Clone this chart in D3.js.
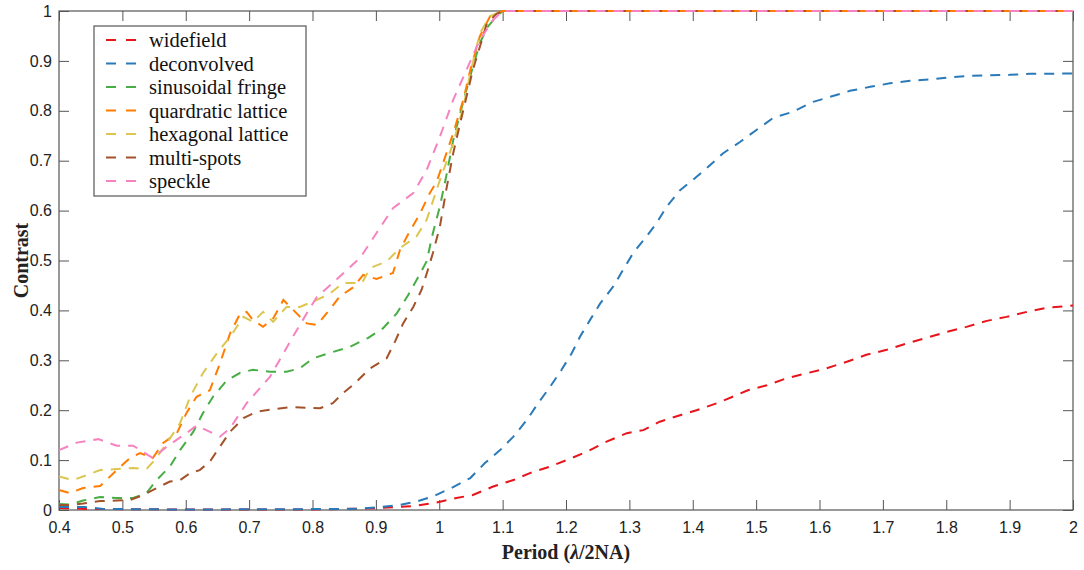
<!DOCTYPE html>
<html>
<head>
<meta charset="utf-8">
<script src="https://cdn.jsdelivr.net/npm/d3@7"></script>
<style>
  body { margin: 0; background: #fff; }
  svg { display: block; }
</style>
</head>
<body>
<div id="chart"></div>
<script>
// Contrast vs. period
const xTicks = [0.4, 0.5, 0.6, 0.7, 0.8, 0.9, 1, 1.1, 1.2, 1.3, 1.4, 1.5, 1.6, 1.7, 1.8, 1.9, 2];
const yTicks = [0, 0.1, 0.2, 0.3, 0.4, 0.5, 0.6, 0.7, 0.8, 0.9, 1];

const widefield = [[0.4,0.004],[0.45,0.002],[0.6,0.001],[0.8,0.001],[0.88,0.003],[0.906,0.004],[0.959,0.008],[0.996,0.015],[1.027,0.024],[1.053,0.03],[1.085,0.047],[1.117,0.06],[1.143,0.074],[1.175,0.087],[1.201,0.1],[1.233,0.117],[1.264,0.137],[1.296,0.154],[1.322,0.16],[1.348,0.177],[1.38,0.19],[1.406,0.2],[1.438,0.214],[1.463,0.227],[1.487,0.24],[1.517,0.25],[1.548,0.264],[1.58,0.274],[1.611,0.284],[1.643,0.297],[1.674,0.311],[1.706,0.321],[1.738,0.334],[1.769,0.345],[1.801,0.357],[1.832,0.367],[1.864,0.379],[1.895,0.387],[1.927,0.397],[1.958,0.405],[2.0,0.41]];

const deconvolved = [[0.4,0.006],[0.44,0.006],[0.47,0.002],[0.6,0.001],[0.85,0.002],[0.88,0.003],[0.906,0.006],[0.938,0.01],[0.964,0.017],[0.99,0.027],[1.022,0.046],[1.049,0.064],[1.072,0.094],[1.096,0.12],[1.117,0.147],[1.138,0.18],[1.156,0.214],[1.175,0.247],[1.193,0.281],[1.209,0.314],[1.222,0.347],[1.238,0.381],[1.254,0.414],[1.274,0.447],[1.29,0.481],[1.306,0.515],[1.327,0.548],[1.343,0.575],[1.359,0.608],[1.38,0.641],[1.4,0.661],[1.422,0.685],[1.448,0.715],[1.475,0.738],[1.501,0.762],[1.527,0.786],[1.558,0.798],[1.59,0.818],[1.617,0.828],[1.648,0.84],[1.68,0.848],[1.711,0.855],[1.743,0.86],[1.774,0.863],[1.806,0.867],[1.837,0.87],[1.869,0.871],[1.9,0.872],[1.932,0.874],[1.964,0.874],[2.0,0.875]];

const sinusoidal = [[0.4,0.012],[0.417,0.011],[0.438,0.019],[0.465,0.026],[0.491,0.024],[0.517,0.024],[0.538,0.034],[0.554,0.06],[0.575,0.087],[0.591,0.12],[0.612,0.157],[0.627,0.194],[0.643,0.227],[0.665,0.26],[0.686,0.275],[0.706,0.281],[0.733,0.277],[0.759,0.277],[0.78,0.284],[0.801,0.304],[0.825,0.314],[0.859,0.327],[0.888,0.345],[0.911,0.364],[0.933,0.394],[0.951,0.431],[0.966,0.465],[0.98,0.498],[0.99,0.555],[1.001,0.608],[1.012,0.675],[1.022,0.741],[1.033,0.795],[1.043,0.842],[1.053,0.888],[1.064,0.935],[1.075,0.966],[1.09,0.989],[1.1,1],[2,1]];

const quadratic = [[0.4,0.04],[0.417,0.034],[0.438,0.044],[0.465,0.048],[0.491,0.08],[0.512,0.104],[0.528,0.114],[0.548,0.104],[0.564,0.134],[0.586,0.154],[0.601,0.194],[0.617,0.227],[0.638,0.24],[0.654,0.294],[0.67,0.354],[0.686,0.394],[0.696,0.397],[0.706,0.381],[0.722,0.367],[0.738,0.384],[0.754,0.421],[0.775,0.394],[0.791,0.374],[0.807,0.371],[0.828,0.403],[0.843,0.428],[0.864,0.446],[0.88,0.471],[0.901,0.463],[0.927,0.475],[0.938,0.521],[0.949,0.548],[0.97,0.595],[0.985,0.635],[0.996,0.658],[1.006,0.695],[1.022,0.755],[1.038,0.822],[1.049,0.882],[1.064,0.949],[1.08,0.989],[1.1,1],[2,1]];

const hexagonal = [[0.4,0.067],[0.422,0.06],[0.444,0.07],[0.465,0.08],[0.491,0.082],[0.517,0.084],[0.538,0.082],[0.551,0.1],[0.57,0.134],[0.591,0.174],[0.607,0.227],[0.627,0.274],[0.649,0.314],[0.67,0.347],[0.691,0.387],[0.706,0.377],[0.722,0.397],[0.738,0.377],[0.759,0.407],[0.78,0.407],[0.807,0.421],[0.828,0.434],[0.848,0.455],[0.878,0.455],[0.891,0.485],[0.917,0.498],[0.938,0.525],[0.964,0.548],[0.98,0.581],[1.001,0.661],[1.022,0.735],[1.038,0.808],[1.049,0.875],[1.064,0.955],[1.08,0.99],[1.1,1],[2,1]];

const multiSpots = [[0.4,0.01],[0.417,0.01],[0.438,0.013],[0.465,0.018],[0.491,0.019],[0.512,0.02],[0.533,0.03],[0.554,0.044],[0.575,0.057],[0.591,0.06],[0.607,0.074],[0.622,0.08],[0.638,0.097],[0.654,0.127],[0.67,0.157],[0.691,0.184],[0.712,0.197],[0.738,0.202],[0.764,0.206],[0.791,0.205],[0.812,0.204],[0.832,0.214],[0.848,0.234],[0.867,0.254],[0.891,0.284],[0.917,0.304],[0.93,0.337],[0.943,0.374],[0.959,0.407],[0.972,0.441],[0.982,0.481],[0.99,0.515],[1.001,0.568],[1.012,0.648],[1.022,0.715],[1.033,0.775],[1.043,0.828],[1.053,0.882],[1.064,0.928],[1.075,0.975],[1.09,0.994],[1.1,1],[2,1]];

const speckle = [[0.4,0.12],[0.428,0.135],[0.462,0.142],[0.491,0.129],[0.517,0.129],[0.548,0.104],[0.57,0.127],[0.601,0.154],[0.617,0.169],[0.654,0.147],[0.67,0.164],[0.696,0.214],[0.733,0.267],[0.769,0.347],[0.796,0.405],[0.807,0.427],[0.832,0.455],[0.875,0.505],[0.901,0.555],[0.927,0.605],[0.959,0.635],[0.98,0.681],[1.001,0.748],[1.022,0.822],[1.043,0.882],[1.064,0.942],[1.085,0.982],[1.1,1],[2,1]];

const seriesNames = ['widefield', 'deconvolved', 'sinusoidal fringe', 'quardratic lattice', 'hexagonal lattice', 'multi-spots', 'speckle'];
const seriesData = [widefield, deconvolved, sinusoidal, quadratic, hexagonal, multiSpots, speckle];
const seriesColors = ['#e8141c', '#2a7ab9', '#47ad45', '#ff7c00', '#dcc64f', '#a4522a', '#f683c0'];

const width = 1084, height = 570;
const margin = {top: 11, right: 11, bottom: 60, left: 59};
const innerW = width - margin.left - margin.right;
const innerH = height - margin.top - margin.bottom;
const axisColor = '#555';
const serif = '"Liberation Serif", "Times New Roman", serif';

const svg = d3.select('#chart')
    .append('svg')
    .attr('width', width)
    .attr('height', height);

const g = svg.append('g')
    .attr('transform', `translate(${margin.left},${margin.top})`);

const x = d3.scaleLinear().domain([0.4, 2]).range([0, innerW]);
const y = d3.scaleLinear().domain([0, 1]).range([innerH, 0]);

// Box with inward ticks on all four sides (MATLAB style)
function styleAxis(sel) {
    sel.select('.domain').remove();
    sel.selectAll('.tick line').attr('stroke', axisColor).attr('stroke-width', 1);
    sel.selectAll('.tick text')
        .attr('fill', '#222')
        .style('font-family', '"Liberation Sans", Arial, sans-serif')
        .style('font-size', '16px');
}

const fmt = d => String(+d.toFixed(1));

g.append('g')
    .attr('transform', `translate(0,${innerH})`)
    .call(d3.axisBottom(x).tickValues(xTicks).tickFormat(fmt).tickSizeInner(-10).tickSizeOuter(0).tickPadding(12))
    .call(styleAxis);

g.append('g')
    .call(d3.axisTop(x).tickValues(xTicks).tickFormat('').tickSizeInner(-10).tickSizeOuter(0))
    .call(styleAxis);

g.append('g')
    .call(d3.axisLeft(y).tickValues(yTicks).tickFormat(fmt).tickSizeInner(-10).tickSizeOuter(0).tickPadding(7))
    .call(styleAxis);

g.append('g')
    .attr('transform', `translate(${innerW},0)`)
    .call(d3.axisRight(y).tickValues(yTicks).tickFormat('').tickSizeInner(-10).tickSizeOuter(0))
    .call(styleAxis);

g.append('rect')
    .attr('x', 0).attr('y', 0)
    .attr('width', innerW).attr('height', innerH)
    .attr('fill', 'none')
    .attr('stroke', axisColor)
    .attr('stroke-width', 1.2);

// Curves
const line = d3.line()
    .x(d => x(d[0]))
    .y(d => y(d[1]));

seriesData.forEach((data, i) => {
    g.append('path')
        .datum(data)
        .attr('d', line)
        .attr('fill', 'none')
        .attr('stroke', seriesColors[i])
        .attr('stroke-width', 2)
        .attr('stroke-dasharray', '10,8');
});

// Axis labels
const xLabel = svg.append('text')
    .attr('x', margin.left + innerW / 2)
    .attr('y', 559)
    .attr('text-anchor', 'middle')
    .style('font-family', serif)
    .style('font-size', '20px')
    .style('font-weight', 'bold')
    .attr('fill', '#222');
xLabel.append('tspan').text('Period (');
xLabel.append('tspan').style('font-style', 'italic').text('λ');
xLabel.append('tspan').text('/2NA)');

svg.append('text')
    .attr('transform', `translate(28,${margin.top + innerH / 2}) rotate(-90)`)
    .attr('text-anchor', 'middle')
    .style('font-family', serif)
    .style('font-size', '20px')
    .style('font-weight', 'bold')
    .attr('fill', '#222')
    .text('Contrast');

// Legend
const legend = svg.append('g').attr('transform', 'translate(94,26)');
const rowH = 23.5;

legend.append('rect')
    .attr('x', 0).attr('y', 0)
    .attr('width', 212).attr('height', 170)
    .attr('fill', '#fff')
    .attr('stroke', axisColor)
    .attr('stroke-width', 1.2);

seriesNames.forEach((name, i) => {
    const ry = 14 + i * rowH;
    legend.append('line')
        .attr('x1', 12).attr('x2', 43)
        .attr('y1', ry).attr('y2', ry)
        .attr('stroke', seriesColors[i])
        .attr('stroke-width', 2)
        .attr('stroke-dasharray', '10,10');
    legend.append('text')
        .attr('x', 55)
        .attr('y', ry + 7)
        .style('font-family', serif)
        .style('font-size', '20.5px')
        .attr('fill', '#111')
        .text(name);
});
</script>
</body>
</html>
